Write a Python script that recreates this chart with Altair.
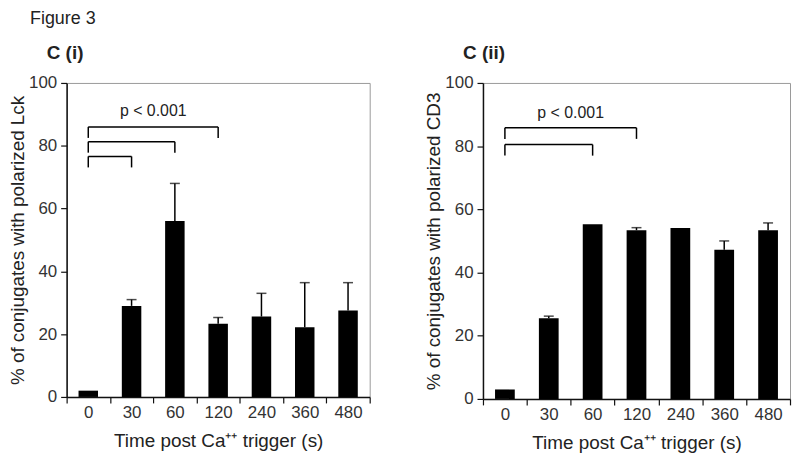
import altair as alt
import pandas as pd

times = ["0", "30", "60", "120", "240", "360", "480"]
lck_mean = [2.0, 29.0, 56.0, 23.3, 25.6, 22.2, 27.5]
lck_err = [0.0, 2.0, 12.0, 2.0, 7.4, 14.2, 8.9]
cd3_mean = [3.0, 25.5, 55.3, 53.4, 54.1, 47.2, 53.4]
cd3_err = [0.0, 0.7, 0.0, 0.8, 0.0, 2.8, 2.3]

lck_br_start = ["0", "0", "0"]
lck_br_end = ["120", "60", "30"]
lck_br_level = [86.0, 81.3, 76.6]
cd3_br_start = ["0", "0"]
cd3_br_end = ["120", "60"]
cd3_br_level = [85.8, 80.5]
p_label = "p < 0.001"
p_label_pos = "60"
p_label_y_lck = 91.0
p_label_y_cd3 = 90.5
bracket_drop = 3.5

y_ticks = [0, 20, 40, 60, 80, 100]
x_title = "Time post Ca\u207a\u207a trigger (s)"
FONT = "Liberation Sans"


def panel(mean, err, bs, be, bl, py, title, ylab, w, h):
    df = pd.DataFrame({"t": times, "m": mean, "e": err})
    df["top"] = df["m"] + df["e"]
    errdf = df[df["e"] > 0]
    br = pd.DataFrame({"s": bs, "en": be, "lv": bl})
    br["low"] = br["lv"] - bracket_drop
    txt = pd.DataFrame({"x": [p_label_pos], "y": [py], "txt": [p_label]})

    xscale = alt.Scale(domain=times, paddingInner=0, paddingOuter=0)
    xaxis = alt.Axis(title=x_title, labelAngle=0, tickBand="extent", tickSize=6,
                     labelPadding=2, titlePadding=11)
    yscale = alt.Scale(domain=[0, 100])
    yaxis = alt.Axis(title=ylab, values=y_ticks, grid=False, tickSize=6,
                     labelPadding=4, titlePadding=1)

    def X(f, **kw):
        return alt.X(f, type="nominal", scale=xscale, axis=xaxis, **kw)

    def Y(f):
        return alt.Y(f, type="quantitative", scale=yscale, axis=yaxis)

    bars = alt.Chart(df).mark_bar(color="black", width=alt.RelativeBandSize(0.45)).encode(
        x=X("t"), y=Y("m"))
    erule = alt.Chart(errdf).mark_rule(color="black", strokeWidth=1.5).encode(
        x=X("t"), y=Y("m"), y2="top:Q")
    caps = alt.Chart(errdf).mark_tick(color="black", thickness=1.5, size=10).encode(
        x=X("t"), y=Y("top"))
    hrule = alt.Chart(br).mark_rule(color="black", strokeWidth=1.5).encode(
        x=X("s"), x2="en:N", y=Y("lv"))
    ldrop = alt.Chart(br).mark_rule(color="black", strokeWidth=1.5).encode(
        x=X("s"), y=Y("lv"), y2="low:Q")
    rdrop = alt.Chart(br).mark_rule(color="black", strokeWidth=1.5).encode(
        x=X("en"), y=Y("lv"), y2="low:Q")
    label = alt.Chart(txt).mark_text(fontSize=16, font=FONT, color="#222").encode(
        x=X("x", bandPosition=0), y=Y("y"), text="txt:N")
    return alt.layer(bars, erule, caps, hrule, ldrop, rdrop, label).properties(
        width=w, height=h,
        title=alt.TitleParams(title, anchor="start", frame="group", dx=-20,
                              fontSize=19, fontWeight="bold", font=FONT,
                              color="#222", offset=11))


left = panel(lck_mean, lck_err, lck_br_start, lck_br_end, lck_br_level, p_label_y_lck,
             "C (i)", "% of conjugates with polarized Lck", 305, 316)
right = panel(cd3_mean, cd3_err, cd3_br_start, cd3_br_end, cd3_br_level, p_label_y_cd3,
              "C (ii)", "% of conjugates with polarized CD3", 309, 318)

chart = alt.hconcat(left, right, spacing=53).properties(
    title=alt.TitleParams("Figure 3", anchor="start", fontSize=18, fontWeight="normal",
                          font=FONT, color="#222", dx=22, offset=16)
).configure(
    padding={"left": 0, "top": 0, "right": 0, "bottom": 0}, background="white"
).configure_view(
    stroke="#999", strokeWidth=1
).configure_axis(
    labelFont=FONT, titleFont=FONT, labelFontSize=17, titleFontSize=19,
    titleFontWeight="normal", labelColor="#333", titleColor="#222",
    domainColor="#111", domainWidth=1.5, tickColor="#111", tickWidth=1.2
)

chart.save("out.html", embed_options={"renderer": "svg", "actions": False})
